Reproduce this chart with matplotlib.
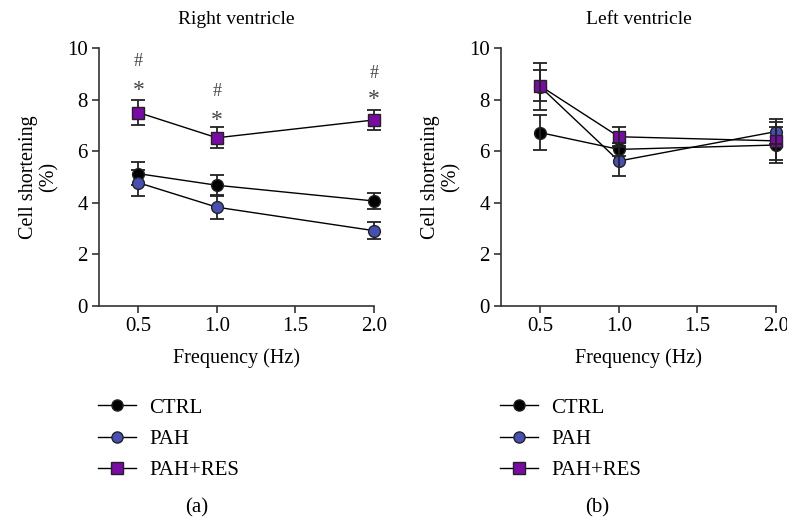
import matplotlib
matplotlib.use('Agg')
import matplotlib.pyplot as plt

plt.rcParams['font.family'] = ['Liberation Serif', 'DejaVu Serif']

freq = [0.5, 1.0, 2.0]
groups = ['CTRL', 'PAH', 'PAH+RES']

# right ventricle, mean and error
rv_ctrl = [5.13, 4.68, 4.07]
rv_ctrl_err = [0.44, 0.39, 0.32]
rv_pah = [4.78, 3.83, 2.92]
rv_pah_err = [0.50, 0.45, 0.33]
rv_res = [7.50, 6.52, 7.21]
rv_res_err = [0.47, 0.40, 0.39]

# left ventricle
lv_ctrl = [6.72, 6.07, 6.24]
lv_ctrl_err = [0.67, 0.25, 0.70]
lv_pah = [8.50, 5.62, 6.76]
lv_pah_err = [0.92, 0.57, 0.50]
lv_res = [8.53, 6.56, 6.40]
lv_res_err = [0.60, 0.39, 0.75]

# significance marks above PAH+RES (right ventricle)
star_y = [8.35, 7.20, 8.00]
hash_y = [9.47, 8.30, 9.00]

colors = {'CTRL': '#000000', 'PAH': '#4650b4', 'PAH+RES': '#7a0aa5'}
markers = {'CTRL': 'o', 'PAH': 'o', 'PAH+RES': 's'}

fig = plt.figure(figsize=(7.87, 5.22), dpi=100)
W, H = 787, 522

ax1 = fig.add_axes([99 / W, 1 - 306 / H, 275 / W, 258 / H])
ax2 = fig.add_axes([501 / W, 1 - 306 / H, 275 / W, 258 / H])


def draw(ax, data, title, err_on_top):
    for g in groups:
        y, e = data[g]
        ax.plot(freq, y, color='black', lw=1.0, zorder=2, clip_on=False)
        eb = ax.errorbar(freq, y, yerr=e, fmt='none', ecolor='#222222',
                         elinewidth=1.3, capsize=5, capthick=1.3,
                         zorder=4 if err_on_top else 1)
        for art in eb.lines[1] + eb.lines[2]:
            art.set_clip_on(False)
        ax.plot(freq, y, ls='none', marker=markers[g], ms=8.5,
                mfc=colors[g], mec='#222222', mew=1.0, zorder=3,
                clip_on=False)
    ax.set_xlim(0.25, 2.0)
    ax.set_ylim(0, 10)
    ax.set_xticks([0.5, 1.0, 1.5, 2.0])
    ax.set_xticklabels(['0.5', '1.0', '1.5', '2.0'])
    ax.set_yticks([0, 2, 4, 6, 8, 10])
    ax.spines['top'].set_visible(False)
    ax.spines['right'].set_visible(False)
    for s in ['left', 'bottom']:
        ax.spines[s].set_color('#333333')
        ax.spines[s].set_linewidth(1.2)
    ax.tick_params(labelsize=15, length=5, width=1.2, color='#333333',
                   pad=3)
    ax.set_title(title, fontsize=14, pad=17)
    ax.set_xlabel('Frequency (Hz)', fontsize=14.5, labelpad=9)
    ax.set_ylabel('Cell shortening\n(%)', fontsize=14.5, labelpad=6,
                  linespacing=1.1)


draw(ax1, {'CTRL': (rv_ctrl, rv_ctrl_err), 'PAH': (rv_pah, rv_pah_err),
           'PAH+RES': (rv_res, rv_res_err)}, 'Right ventricle', False)
draw(ax2, {'CTRL': (lv_ctrl, lv_ctrl_err), 'PAH': (lv_pah, lv_pah_err),
           'PAH+RES': (lv_res, lv_res_err)}, 'Left ventricle', True)

for x, sy, hy in zip(freq, star_y, hash_y):
    ax1.text(x, sy, '*', ha='center', va='center', fontsize=17, color='#444444')
    ax1.text(x, hy, '#', ha='center', va='center', fontsize=13, color='#444444')

# legends below each panel
for x0, lab, xl in [(98, '(a)', 197), (500, '(b)', 597)]:
    handles = []
    for g in groups:
        h, = fig.gca().plot([], [], color='black', lw=1.0, marker=markers[g],
                            ms=8, mfc=colors[g], mec='#222222')
        handles.append(h)
    fig.legend(handles, groups, loc='center left',
               bbox_to_anchor=(x0 / W, 1 - 439 / H), frameon=False,
               fontsize=15, handlelength=1.8, handletextpad=0.65,
               labelspacing=0.55, borderpad=0, borderaxespad=0)
    fig.text(xl / W, 1 - 508 / H, lab, ha='center', va='center', fontsize=15)

fig.savefig('out.png', dpi=100)
